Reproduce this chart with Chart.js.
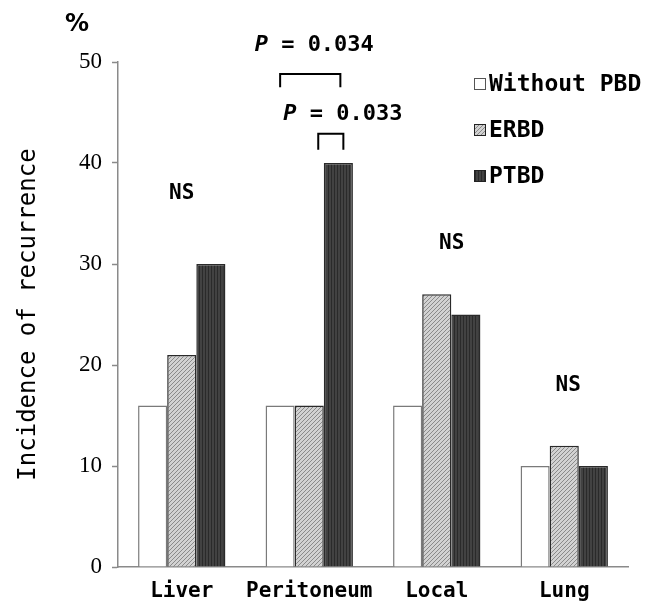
<!DOCTYPE html>
<html>
<head>
<meta charset="utf-8">
<script src="https://cdn.jsdelivr.net/npm/chart.js@4.4.0/dist/chart.umd.min.js"></script>
<style>
  html, body { margin: 0; padding: 0; background: #fff; }
</style>
</head>
<body>
<canvas id="chart" width="647" height="605"></canvas>
<script>
// data
const categories = ["Liver", "Peritoneum", "Local", "Lung"];
const seriesNames = ["Without PBD", "ERBD", "PTBD"];
const withoutPbd = [16, 16, 16, 10];
const erbd = [21, 16, 27, 12];
const ptbd = [30, 40, 25, 10];
const yMax = 50;
const yStep = 10;
const nsCategories = ["Liver", "Local", "Lung"];
const nsValues = [37, 32, 18];
const pTexts = ["0.034", "0.033"];

const MONO = "'DejaVu Sans Mono', 'Liberation Mono', monospace";
const AXIS = "#8a8a8a";

function makePattern(bg, line, kind) {
  const p = document.createElement("canvas");
  const s = kind === "diag" ? 4 : 3;
  p.width = s;
  p.height = s;
  const c = p.getContext("2d");
  c.fillStyle = bg;
  c.fillRect(0, 0, s, s);
  c.strokeStyle = line;
  c.lineWidth = 1;
  c.beginPath();
  if (kind === "diag") {
    c.moveTo(-1, s + 1);
    c.lineTo(s + 1, -1);
    c.moveTo(-1, 1);
    c.lineTo(1, -1);
    c.moveTo(s - 1, s + 1);
    c.lineTo(s + 1, s - 1);
  } else {
    c.moveTo(1.5, 0);
    c.lineTo(1.5, s);
  }
  c.stroke();
  return document.getElementById("chart").getContext("2d").createPattern(p, "repeat");
}

const erbdFill = makePattern("#d2d2d2", "#8a8a8a", "diag");
const ptbdFill = makePattern("#424242", "#2a2a2a", "vert");

const fills = ["#ffffff", erbdFill, ptbdFill];
const borders = ["#7a7a7a", "#2a2a2a", "#2a2a2a"];
const nsShift = [0, 15, 4];

// NS, P values, brackets, legend and the % sign
const annotations = {
  id: "annotations",
  afterDatasetsDraw(chart) {
    const ctx = chart.ctx;
    const y = chart.scales.y;
    const x = chart.scales.x;
    const area = chart.chartArea;
    ctx.save();
    ctx.fillStyle = "#000";
    ctx.textBaseline = "middle";

    // NS
    ctx.font = "bold 21px " + MONO;
    ctx.textAlign = "center";
    nsCategories.forEach((cat, i) => {
      const cx = x.getPixelForValue(categories.indexOf(cat));
      ctx.fillText("NS", cx + nsShift[i], y.getPixelForValue(nsValues[i]));
    });

    // brackets over peritoneum
    const pi = categories.indexOf("Peritoneum");
    const w = chart.getDatasetMeta(0).data[pi].x;
    const g = chart.getDatasetMeta(1).data[pi].x;
    const d = chart.getDatasetMeta(2).data[pi].x;
    ctx.strokeStyle = "#000";
    ctx.lineWidth = 2;
    const bracket = (x1, x2, top, bottom) => {
      ctx.beginPath();
      ctx.moveTo(x1, bottom);
      ctx.lineTo(x1, top);
      ctx.lineTo(x2, top);
      ctx.lineTo(x2, bottom);
      ctx.stroke();
    };
    bracket(w, d + 2, y.getPixelForValue(48.8), y.getPixelForValue(47.5));
    bracket(g + 9, d + 5, y.getPixelForValue(42.9), y.getPixelForValue(41.3));

    const pLabel = (text, cx, cy) => {
      const rest = " = " + text;
      ctx.font = "italic bold 22px " + MONO;
      const pw = ctx.measureText("P").width;
      ctx.font = "bold 22px " + MONO;
      const rw = ctx.measureText(rest).width;
      const left = cx - (pw + rw) / 2;
      ctx.textAlign = "left";
      ctx.font = "italic bold 22px " + MONO;
      ctx.fillText("P", left, cy);
      ctx.font = "bold 22px " + MONO;
      ctx.fillText(rest, left + pw, cy);
    };
    pLabel(pTexts[0], (w + d) / 2 + 5, y.getPixelForValue(51.7));
    pLabel(pTexts[1], (g + d) / 2 + 19, y.getPixelForValue(44.8));

    // % sign
    ctx.textAlign = "center";
    ctx.font = "bold 24px 'DejaVu Sans', sans-serif";
    ctx.fillText("%", area.left - 41, area.top - 37);

    // legend
    ctx.font = "bold 23px " + MONO;
    ctx.textAlign = "left";
    seriesNames.forEach((name, i) => {
      const ly = area.top + 22 + i * 46;
      const bx = 474;
      ctx.fillStyle = fills[i];
      ctx.fillRect(bx, ly - 6, 11, 11);
      ctx.strokeStyle = i === 0 ? "#555" : "#222";
      ctx.lineWidth = 1;
      ctx.strokeRect(bx + 0.5, ly - 5.5, 11, 11);
      ctx.fillStyle = "#000";
      ctx.fillText(name, bx + 15, ly + 1);
    });
    ctx.restore();
  }
};

new Chart(document.getElementById("chart"), {
  type: "bar",
  data: {
    labels: categories,
    datasets: [withoutPbd, erbd, ptbd].map((vals, i) => ({
      label: seriesNames[i],
      data: vals,
      backgroundColor: fills[i],
      borderColor: borders[i],
      borderWidth: 1.5,
      barPercentage: 1,
      categoryPercentage: 0.685
    }))
  },
  options: {
    responsive: false,
    animation: false,
    devicePixelRatio: 1,
    layout: { padding: { top: 62, right: 19, bottom: 0, left: 0 } },
    plugins: {
      legend: { display: false },
      tooltip: { enabled: false }
    },
    scales: {
      x: {
        grid: { display: false, drawTicks: false },
        border: { display: true, color: AXIS, width: 1.5 },
        ticks: {
          color: "#000",
          padding: 12,
          maxRotation: 0,
          minRotation: 0,
          autoSkip: false,
          font: { family: MONO, size: 21, weight: "bold" }
        },
        afterFit(scale) { scale.height = 38; }
      },
      y: {
        min: 0,
        max: yMax,
        ticks: {
          stepSize: yStep,
          color: "#000",
          padding: 10,
          font: { family: "'Liberation Serif', 'Times New Roman', serif", size: 23 }
        },
        grid: { drawOnChartArea: false, drawTicks: true, tickLength: 6, color: AXIS, tickWidth: 1.5 },
        border: { display: true, color: AXIS, width: 1.5 },
        title: {
          display: true,
          text: "Incidence of recurrence",
          color: "#000",
          padding: { top: 14, bottom: 0 },
          font: { family: MONO, size: 24, weight: "normal" }
        },
        afterFit(scale) { scale.width = 118; }
      }
    }
  },
  plugins: [annotations]
});
</script>
</body>
</html>
